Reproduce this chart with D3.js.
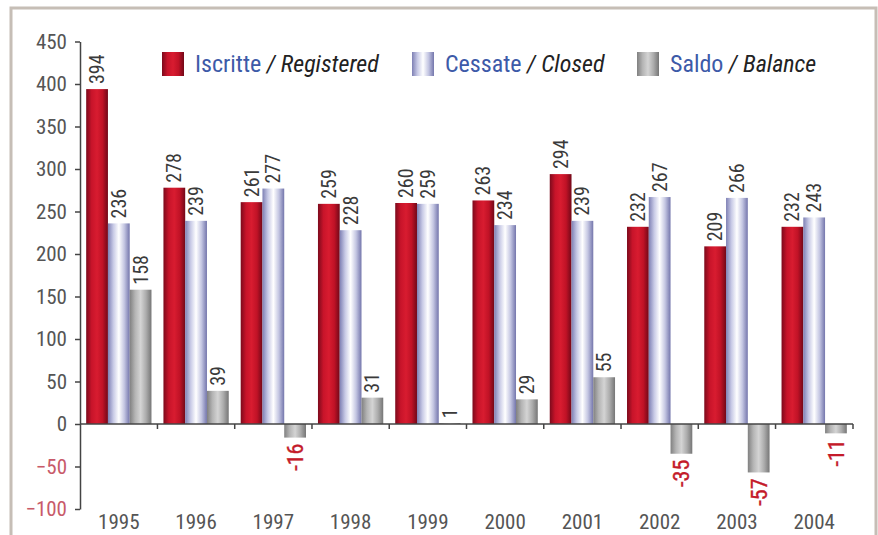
<!DOCTYPE html>
<html lang="it">
<head>
  <meta charset="UTF-8">
  <title>Iscritte / Cessate / Saldo</title>
  <style>
    body { margin: 0; background: #fff; }
    #chart { width: 878px; height: 535px; }
    text { font-family: "Liberation Sans Narrow", "Roboto Condensed", "DejaVu Sans Condensed", sans-serif; }
  </style>
</head>
<body>

<div id="chart"></div>

<script src="https://d3js.org/d3.v7.min.js"></script>
<script>

const years = ["1995", "1996", "1997", "1998", "1999", "2000", "2001", "2002", "2003", "2004"];
const iscritte = [394, 278, 261, 259, 260, 263, 294, 232, 209, 232];
const cessate = [236, 239, 277, 228, 259, 234, 239, 267, 266, 243];
const saldo = [158, 39, -16, 31, 1, 29, 55, -35, -57, -11];
const yTicks = [450, 400, 350, 300, 250, 200, 150, 100, 50, 0, -50, -100];

const seriesNames = ["iscritte", "cessate", "saldo"];
const seriesValues = [iscritte, cessate, saldo];
const legendItems = [
  { key: "iscritte", it: "Iscritte", en: "Registered" },
  { key: "cessate", it: "Cessate", en: "Closed" },
  { key: "saldo", it: "Saldo", en: "Balance" }
];

const width = 878;
const height = 535;
const FONT = "'Liberation Sans Narrow', 'DejaVu Sans Condensed', sans-serif";

const svg = d3.select("#chart").append("svg")
  .attr("width", width)
  .attr("height", height);

// gradients for the "cylinder" look of the bars
const defs = svg.append("defs");
const gradStops = {
  iscritte: ["#7c0a1c", "#c8142a", "#d81c30", "#c01226", "#720818"],
  cessate: ["#7e80b4", "#c8cae6", "#ffffff", "#c4c6e2", "#7476ac"],
  saldo: ["#808080", "#b4b4b4", "#d4d4d4", "#acacac", "#767676"]
};
Object.entries(gradStops).forEach(([k, cols]) => {
  const g = defs.append("linearGradient").attr("id", "g-" + k)
    .attr("x1", "0%").attr("x2", "100%").attr("y1", "0%").attr("y2", "0%");
  cols.forEach((c, i) => {
    g.append("stop").attr("offset", (i / (cols.length - 1) * 100) + "%").attr("stop-color", c);
  });
});

// outer frame
svg.append("path")
  .attr("d", `M11,${height} L11,8 L876,8 L876,${height}`)
  .attr("fill", "none")
  .attr("stroke", "#c6beb6")
  .attr("stroke-width", 3);

const x0 = d3.scaleBand()
  .domain(years)
  .range([80, 853])
  .paddingInner(0.155)
  .paddingOuter(0.08);

const x1 = d3.scaleBand()
  .domain(seriesNames)
  .range([0, x0.bandwidth()]);

const y = d3.scaleLinear()
  .domain([-100, 450])
  .range([509, 41.5]);

// bars
seriesNames.forEach((name, si) => {
  const vals = seriesValues[si];
  svg.append("g").selectAll("rect")
    .data(years)
    .enter().append("rect")
    .attr("x", (d) => x0(d) + x1(name))
    .attr("y", (d, i) => y(Math.max(0, vals[i])))
    .attr("width", x1.bandwidth())
    .attr("height", (d, i) => Math.abs(y(vals[i]) - y(0)))
    .attr("fill", "url(#g-" + name + ")");
});

// value labels (rotated)
seriesNames.forEach((name, si) => {
  const vals = seriesValues[si];
  svg.append("g").selectAll("text")
    .data(years)
    .enter().append("text")
    .attr("transform", (d, i) => {
      const v = vals[i];
      const cx = x0(d) + x1(name) + x1.bandwidth() / 2 + (v >= 0 ? 7 : 8);
      const yy = v >= 0 ? y(v) - 5 : y(v) + 6;
      return `translate(${cx},${yy}) rotate(-90)`;
    })
    .attr("text-anchor", (d, i) => vals[i] >= 0 ? "start" : "end")
    .attr("font-size", (d, i) => vals[i] >= 0 ? 20 : 22)
    .attr("fill", (d, i) => vals[i] >= 0 ? "#3a3a3a" : "#c41a2a")
    .attr("stroke", (d, i) => vals[i] >= 0 ? "none" : "#c41a2a")
    .attr("stroke-width", 0.4)
    .text((d, i) => vals[i]);
});

// y axis
const yAxis = svg.append("g")
  .attr("transform", "translate(80,0)")
  .call(d3.axisLeft(y).tickValues(yTicks).tickSize(5).tickSizeOuter(0).tickPadding(8));
yAxis.select(".domain").attr("stroke", "#444").attr("stroke-width", 1.5);
yAxis.selectAll(".tick line").attr("stroke", "#444").attr("stroke-width", 1.5);
yAxis.selectAll(".tick text")
  .attr("font-size", 21)
  .attr("font-family", FONT)
  .attr("fill", (d) => d < 0 ? "#c85a6a" : "#555");

// x axis along zero
const xAxisLine = svg.append("g").attr("transform", `translate(0,${y(0)})`);
xAxisLine.append("line")
  .attr("x1", 80).attr("x2", 853)
  .attr("stroke", "#444").attr("stroke-width", 1.5);
const bounds = years.slice(1).map((d) => x0(d) - x0.step() * x0.paddingInner() / 2).concat([853]);
xAxisLine.selectAll(".xt")
  .data(bounds)
  .enter().append("line")
  .attr("x1", (d) => d).attr("x2", (d) => d)
  .attr("y1", 0).attr("y2", 5)
  .attr("stroke", "#444").attr("stroke-width", 1.5);

// x labels at the bottom
svg.append("g").selectAll("text")
  .data(years)
  .enter().append("text")
  .attr("x", (d) => x0(d) + x0.bandwidth() / 2)
  .attr("y", 529)
  .attr("text-anchor", "middle")
  .attr("font-size", 21)
  .attr("fill", "#555")
  .text((d) => d);

// legend
const legendX = [162, 412, 637];
const legend = svg.append("g");
legendItems.forEach((it, i) => {
  const g = legend.append("g").attr("transform", `translate(${legendX[i]},52)`);
  g.append("rect")
    .attr("width", 22).attr("height", 24)
    .attr("fill", "url(#g-" + it.key + ")");
  const t = g.append("text")
    .attr("x", 33).attr("y", 20)
    .attr("font-size", 24);
  t.append("tspan").attr("fill", "#3d5aa8").text(it.it);
  t.append("tspan").attr("fill", "#222").attr("font-style", "italic").text(" / " + it.en);
});

</script>

</body>
</html>
